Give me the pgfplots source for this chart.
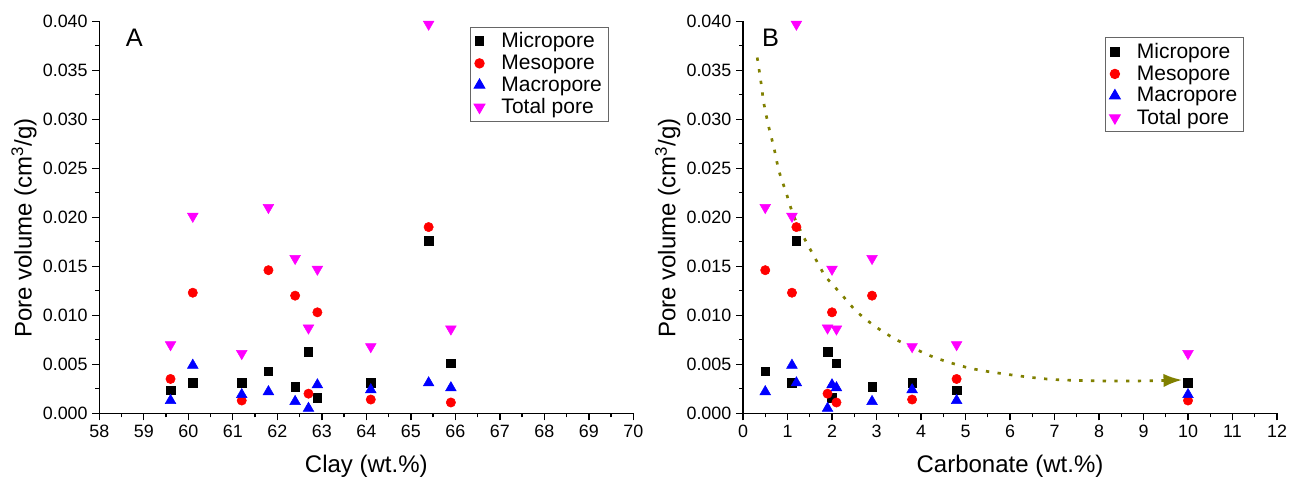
\documentclass[border=0pt]{standalone}
\usepackage{fontspec}
\setmainfont{Liberation Sans}
\usepackage{pgfplots}
\usepackage{pgfplotstable}
\pgfplotsset{compat=1.18}
\usetikzlibrary{arrows.meta}
\definecolor{olivec}{RGB}{128,128,0}
\definecolor{magc}{RGB}{255,0,255}

\pgfplotstableread{
clay micro meso macro total
59.6 0.00235 0.0035 0.0013 0.0070
60.1 0.0031 0.0123 0.0049 0.0201
61.2 0.0031 0.0013 0.0019 0.0061
61.8 0.0043 0.0146 0.0022 0.0210
62.4 0.0027 0.0120 0.0012 0.0158
62.7 0.0063 0.0020 0.0005 0.0087
62.9 0.0016 0.0103 0.0029 0.0147
64.1 0.0031 0.0014 0.0024 0.0068
65.4 0.0176 0.0190 0.0031 0.0397
65.9 0.0051 0.0011 0.0026 0.0086
}\dataA

\pgfplotstableread{
carb micro meso macro total
0.5 0.0043 0.0146 0.0022 0.0210
1.1 0.0031 0.0123 0.0049 0.0201
1.2 0.0176 0.0190 0.0031 0.0397
1.9 0.0063 0.0020 0.0005 0.0087
2.0 0.0016 0.0103 0.0029 0.0147
2.1 0.0051 0.0011 0.0026 0.0086
2.9 0.0027 0.0120 0.0012 0.0158
3.8 0.0031 0.0014 0.0024 0.0068
4.8 0.00235 0.0035 0.0013 0.0070
10.0 0.0031 0.0013 0.0019 0.0061
}\dataB

\pgfplotsset{
  myaxis/.style={
    scale only axis,
    width=400.5pt, height=294pt,
    axis x line*=bottom, axis y line*=left,
    axis line style={line width=1pt, -},
    tick style={line width=1pt, black},
    major tick length=5.25pt, minor tick length=3pt,
    tick align=outside,
    minor x tick num=1, minor y tick num=1,
    ymin=0, ymax=0.040,
    ytick={0,0.005,0.010,0.015,0.020,0.025,0.030,0.035,0.040},
    scaled y ticks=false,
    /pgf/number format/assume math mode=true,
    yticklabel style={/pgf/number format/fixed, /pgf/number format/fixed zerofill, /pgf/number format/precision=3},
    ticklabel style={font=\fontsize{13.4}{16}\selectfont},
    label style={font=\fontsize{18}{21}\selectfont},
    ylabel={Pore volume (cm\textsuperscript{3}/g)},
    ylabel style={at={(axis description cs:-0.141,0.472)}, anchor=center},
    xlabel style={at={(axis description cs:0.5,0)}, yshift=-39.5pt, anchor=center},
    clip=false,
    legend cell align=left,
    legend style={font=\fontsize{15.75}{18}\selectfont, draw=black!60, line width=0.75pt, column sep=10.5pt, anchor=north east},
  },
  micro/.style={only marks, mark=square*, black, mark size=3.2pt},
  meso/.style={only marks, mark=*, red, mark size=3.5pt},
  macro/.style={only marks, mark=triangle*, blue, mark size=4.6pt},
  totalp/.style={only marks, mark=triangle*, magc, mark size=4.6pt, mark options={rotate=180}},
}

\begin{document}
\begin{tikzpicture}
\useasboundingbox (0pt,0pt) rectangle (967.5pt,357.75pt);
\begin{axis}[myaxis,
  at={(74.5pt,47.8pt)}, anchor=south west,
  xmin=58, xmax=70, xtick={58,59,...,70},
  xlabel={Clay (wt.\%)},
  legend style={at={(0.9545,0.986)}},
]
\addplot[micro] table[x=clay, y=micro] {\dataA};
\addlegendentry{Micropore}
\addplot[meso] table[x=clay, y=meso] {\dataA};
\addlegendentry{Mesopore}
\addplot[macro] table[x=clay, y=macro] {\dataA};
\addlegendentry{Macropore}
\addplot[totalp] table[x=clay, y=total] {\dataA};
\addlegendentry{Total pore}
\node[font=\fontsize{19}{22}\selectfont, anchor=center] at (axis description cs:0.0655,0.957) {A};
\end{axis}

\begin{axis}[myaxis,
  at={(557.25pt,47.8pt)}, anchor=south west,
  xmin=0, xmax=12, xtick={0,1,...,12},
  xlabel={Carbonate (wt.\%)},
  legend style={at={(0.939,0.959)}},
]
\addplot[micro] table[x=carb, y=micro] {\dataB};
\addlegendentry{Micropore}
\addplot[meso] table[x=carb, y=meso] {\dataB};
\addlegendentry{Mesopore}
\addplot[macro] table[x=carb, y=macro] {\dataB};
\addlegendentry{Macropore}
\addplot[totalp] table[x=carb, y=total] {\dataB};
\addlegendentry{Total pore}
\addplot[forget plot, smooth, olivec, line width=2pt, dash pattern=on 2.5pt off 6.3pt, -{Latex[length=14pt,width=10pt]}] coordinates {
(0.32,0.0363) (0.40,0.0339) (0.47,0.0316) (0.58,0.0292) (0.70,0.0270) (0.81,0.0247) (0.97,0.0225) (1.125,0.0203) (1.35,0.0181) (1.60,0.0160) (1.85,0.0140) (2.20,0.0122) (2.55,0.0104) (2.96,0.0089) (3.41,0.0076) (3.90,0.0065) (4.36,0.0056) (5.10,0.0046) (5.89,0.0040) (6.90,0.00347) (8.01,0.0033) (8.91,0.0033) (9.87,0.0034)
};
\node[font=\fontsize{19}{22}\selectfont, anchor=center] at (axis description cs:0.0514,0.9566) {B};
\end{axis}
\end{tikzpicture}
\end{document}
